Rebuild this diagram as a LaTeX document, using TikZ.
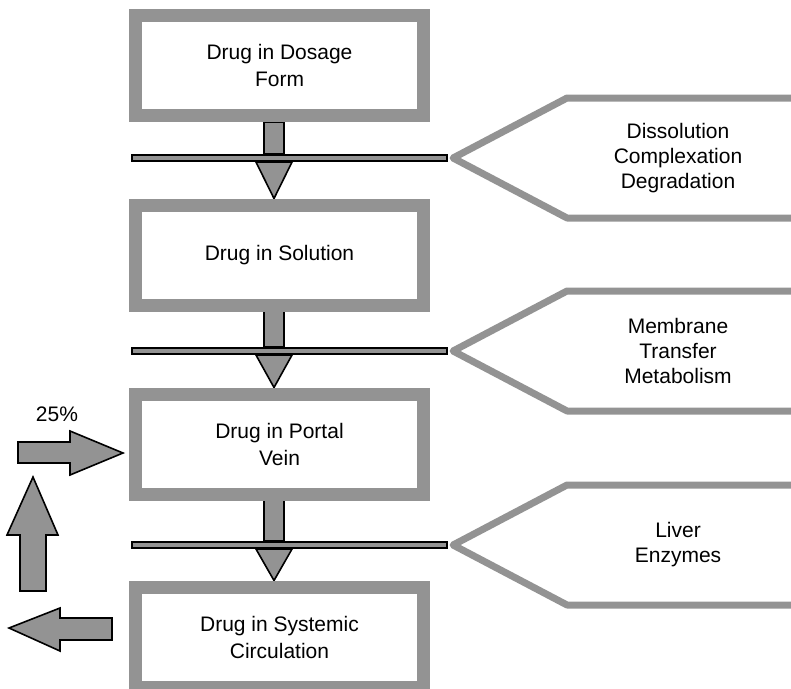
\documentclass[tikz,border=0pt]{standalone}
\usepackage{fontspec}
\setmainfont{Liberation Sans}
\begin{document}
\definecolor{frame}{RGB}{147,147,147}
\pgfdeclarelayer{under}
\pgfsetlayers{under,main}
\begin{tikzpicture}[x=1pt,y=-1pt,
  txt/.style={font=\fontsize{21}{25}\selectfont, align=center, inner sep=0pt},
  stage/.style={txt, draw=frame, line width=13pt, minimum width=288pt,
    minimum height=100pt, font=\fontsize{21}{27}\selectfont},
  membrane/.style={draw=black, line width=1.6pt, fill=frame,
    minimum width=315.5pt, minimum height=6.5pt, inner sep=0pt},
  blk/.style={draw=black, line width=1.6pt, fill=frame, line join=miter},
  funnel/.style={draw=frame, line width=7pt, line join=round}]
\useasboundingbox (0,0) rectangle (791,688);

% drug stages
\node[stage] (s1) at (279.5,65.5) {Drug in Dosage\\Form};
\node[stage] (s2) at (279.5,255) {Drug in Solution};
\node[stage] (s3) at (279.5,444) {Drug in Portal\\Vein};
\node[stage] (s4) at (279.5,637) {Drug in Systemic\\Circulation};

% barriers between stages
\node[membrane] (b1) at (289.5,158) {};
\node[membrane] (b2) at (289.5,351) {};
\node[membrane] (b3) at (289.5,545) {};

% stems and arrow heads crossing each barrier
\begin{pgfonlayer}{under}
\foreach \a/\b/\c in {s1/b1/s2, s2/b2/s3, s3/b3/s4}{
  \draw[blk] (264,0 |- \a.south) rectangle (284,0 |- \b.north);
  \draw[blk] (256,0 |- \b.south) -- (292,0 |- \b.south) -- (274,0 |- \c.north) -- cycle;
}
\end{pgfonlayer}

% processes acting at each barrier
\foreach \b/\t [count=\i] in {b1/{Dissolution\\Complexation\\Degradation},
                              b2/{Membrane\\Transfer\\Metabolism},
                              b3/{Liver\\Enzymes}}{
  \draw[funnel] (800,0 |- \b.east) ++(0,-60) -- ++(-233,0)
    -- ([xshift=5]\b.east) -- ++(114,60) -- ++(233,0);
  \node[txt] (p\i) at (678,0 |- \b.east) {\t};
}

% return loop on the left
\coordinate (r) at ([xshift=-6,yshift=-9]s3.west);
\draw[blk] (r) -- ++(-53,-22) -- ++(0,11) -- ++(-52,0) -- ++(0,21)
  -- ++(52,0) -- ++(0,12) -- cycle;
\node[txt] (pct) at (57,414) {25\%};
\coordinate (u) at (33,477);
\draw[blk] (u) -- ++(25,58) -- ++(-12,0) -- ++(0,56) -- ++(-26,0)
  -- ++(0,-56) -- ++(-13,0) -- cycle;
\coordinate (l) at (9,628);
\draw[blk] (l) -- ++(51,-20) -- ++(0,10) -- ++(52,0) -- ++(0,22)
  -- ++(-52,0) -- ++(0,11) -- cycle;
\end{tikzpicture}
\end{document}
